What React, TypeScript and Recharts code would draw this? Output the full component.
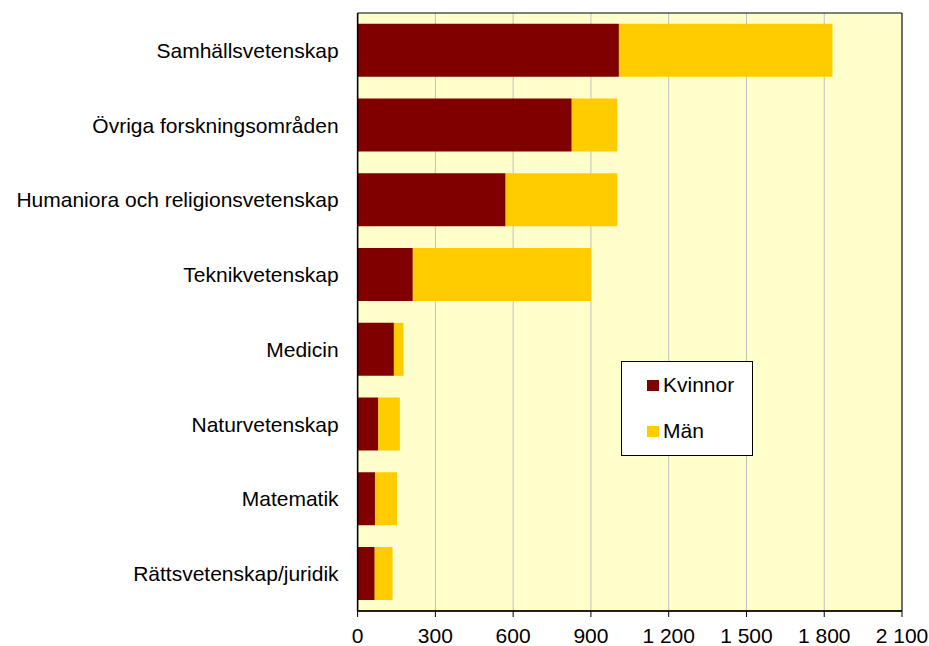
import React from "react";
import {
  Bar,
  BarChart,
  CartesianGrid,
  ReferenceArea,
  XAxis,
  YAxis,
} from "recharts";

const CATEGORIES = [
  "Samhällsvetenskap",
  "Övriga forskningsområden",
  "Humaniora och religionsvetenskap",
  "Teknikvetenskap",
  "Medicin",
  "Naturvetenskap",
  "Matematik",
  "Rättsvetenskap/juridik",
];

const KVINNOR = [1008, 826, 571, 213, 140, 80, 67, 66];
const MAN = [824, 176, 431, 687, 37, 83, 85, 69];

const TICKS = [0, 300, 600, 900, 1200, 1500, 1800, 2100];

const data = CATEGORIES.map((name, i) => ({
  name,
  kvinnor: KVINNOR[i],
  man: MAN[i],
}));

const FONT = "'Liberation Sans', Arial, sans-serif";

const fmt = (v: number) => String(v).replace(/\B(?=(\d{3})+(?!\d))/g, " ");

function LegendBox() {
  const items = [
    { label: "Kvinnor", color: "#800000" },
    { label: "Män", color: "#FFCC00" },
  ];
  return (
    <div
      style={{
        position: "absolute",
        left: 621,
        top: 361,
        width: 132,
        height: 95,
        border: "1px solid #000",
        background: "#fff",
        boxSizing: "border-box",
        fontFamily: FONT,
        fontSize: 21,
        paddingTop: 11,
      }}
    >
      {items.map((it) => (
        <div
          key={it.label}
          style={{ display: "flex", alignItems: "center", height: 24, marginBottom: 22, paddingLeft: 25 }}
        >
          <span style={{ width: 12, height: 11, background: it.color, marginRight: 4, display: "inline-block" }} />
          <span style={{ color: "#000" }}>{it.label}</span>
        </div>
      ))}
    </div>
  );
}

export default function App() {
  return (
    <div style={{ position: "absolute", left: 0, top: 0, width: 929, height: 646, background: "#fff" }}>
      <BarChart
        width={929}
        height={646}
        data={data}
        layout="vertical"
        margin={{ top: 13, right: 27, bottom: 0, left: 0 }}
        barCategoryGap="14.5%"
      >
        <CartesianGrid horizontal={false} stroke="#c0c0c0" strokeWidth={1} fill="#FFFFCC" />
        <XAxis
          type="number"
          domain={[0, 2100]}
          ticks={TICKS}
          tickFormatter={fmt}
          interval={0}
          height={35}
          tickSize={6}
          tickMargin={11}
          axisLine={{ stroke: "#000", strokeWidth: 1.5 }}
          tickLine={{ stroke: "#000" }}
          tick={{ fill: "#000", fontSize: 21, fontFamily: FONT }}
        />
        <YAxis
          type="category"
          dataKey="name"
          width={357.6}
          tickLine={false}
          tickMargin={13}
          axisLine={{ stroke: "#000", strokeWidth: 1.5 }}
          tick={{ fill: "#000", fontSize: 21, fontFamily: FONT }}
          interval={0}
        />
        <Bar dataKey="kvinnor" stackId="a" fill="#800000" name="Kvinnor" isAnimationActive={false} />
        <Bar dataKey="man" stackId="a" fill="#FFCC00" name="Män" isAnimationActive={false} />
        <ReferenceArea x1={0} x2={2100} fill="none" stroke="#000" strokeWidth={1} ifOverflow="visible" />
      </BarChart>
      <LegendBox />
    </div>
  );
}
